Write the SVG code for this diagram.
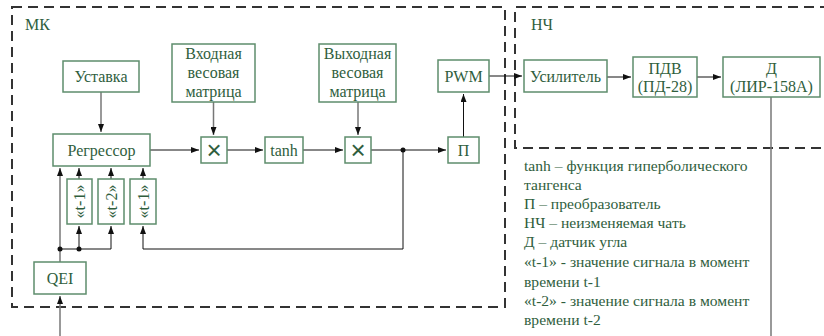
<svg xmlns="http://www.w3.org/2000/svg" width="824" height="336" viewBox="0 0 824 336">
<defs>
<marker id="ah" viewBox="0 0 8 6" refX="8" refY="3" markerWidth="8" markerHeight="6" markerUnits="userSpaceOnUse" orient="auto">
<path d="M0,0 L8,3 L0,6 z" fill="#111"/>
</marker>
</defs>
<style>
.box{fill:#fff;stroke:#5e8d6c;stroke-width:1.5}
.t{font-family:'Liberation Serif',serif;font-size:16px;fill:#2f5e3d;text-anchor:middle}
.lg{font-family:'Liberation Serif',serif;font-size:15.6px;fill:#2f5e3d}
.mul{font-family:'Liberation Sans',sans-serif;font-size:26px;fill:#2f5e3d;text-anchor:middle}
.frame{fill:none;stroke:#333;stroke-width:2;stroke-dasharray:10,6}
.c{fill:none;stroke:#111;stroke-width:1}
.g{fill:none;stroke:#777;stroke-width:1.5}
.dot{fill:#111}
</style>
<rect width="824" height="336" fill="#fff"/>
<g id="frames">
<rect class="frame" x="12" y="7" width="493" height="300"/>
<path class="frame" d="M830,7 H515 V148 H830"/>
<text class="t" x="37.5" y="30">МК</text>
<text class="t" x="542" y="30">НЧ</text>
</g>
<g id="connectors">
<path class="g" d="M101,92 V132" marker-end="url(#ah)"/>
<path class="g" d="M213.5,102 V135" marker-end="url(#ah)"/>
<path class="g" d="M358,102 V135" marker-end="url(#ah)"/>
<path class="c" d="M150,150 H199" marker-end="url(#ah)"/>
<path class="c" d="M227,150 H263" marker-end="url(#ah)"/>
<path class="c" d="M303,150 H343" marker-end="url(#ah)"/>
<path class="c" d="M371,150 H446" marker-end="url(#ah)"/>
<path class="c" d="M463.5,137 V94" marker-end="url(#ah)"/>
<path class="c" d="M489,76 H522" marker-end="url(#ah)"/>
<path class="c" d="M607,77 H631" marker-end="url(#ah)"/>
<path class="c" d="M697,77 H721" marker-end="url(#ah)"/>
<path class="g" d="M771,97 V336"/>
<path class="g" d="M60,336 V296" marker-end="url(#ah)"/>
<path class="g" d="M60,262 V168" marker-end="url(#ah)"/>
<path class="c" d="M60,249 H111 V226" marker-end="url(#ah)"/>
<path class="c" d="M79,249 V226" marker-end="url(#ah)"/>
<path class="c" d="M79,179 V168" marker-end="url(#ah)"/>
<path class="c" d="M111,179 V168" marker-end="url(#ah)"/>
<path class="c" d="M143,179 V168" marker-end="url(#ah)"/>
<path class="c" d="M403,150 V249 H143 V226" marker-end="url(#ah)"/>
<circle class="dot" cx="403" cy="150" r="2.5"/>
<circle class="dot" cx="60" cy="249" r="2.5"/>
<circle class="dot" cx="79" cy="249" r="2.5"/>
</g>
<g id="ustavka"><rect class="box" x="63" y="61" width="76" height="31"/><text class="t" x="101" y="82">Уставка</text></g>
<g id="in_matrix"><rect class="box" x="172" y="44" width="83" height="58"/><text class="t" x="213.5" y="59">Входная</text><text class="t" x="213.5" y="78">весовая</text><text class="t" x="213.5" y="97">матрица</text></g>
<g id="out_matrix"><rect class="box" x="319" y="44" width="77" height="58"/><text class="t" x="357.5" y="59">Выходная</text><text class="t" x="357.5" y="78">весовая</text><text class="t" x="357.5" y="97">матрица</text></g>
<g id="regressor"><rect class="box" x="53" y="134" width="97" height="32"/><text class="t" x="101.5" y="155.5">Регрессор</text></g>
<g id="mul1"><rect class="box" x="201" y="137" width="26" height="26"/><text class="mul" x="214" y="159">×</text></g>
<g id="tanh"><rect class="box" x="265" y="137" width="38" height="26"/><text class="t" x="284" y="155.5">tanh</text></g>
<g id="mul2"><rect class="box" x="345" y="137" width="26" height="26"/><text class="mul" x="358" y="159">×</text></g>
<g id="pwm"><rect class="box" x="438" y="60" width="51" height="32"/><text class="t" x="463.5" y="82">PWM</text></g>
<g id="p"><rect class="box" x="448" y="137" width="31" height="26"/><text class="t" x="463.5" y="155.5">П</text></g>
<g id="d1"><rect class="box" x="67" y="179" width="25" height="45"/><text class="t" transform="translate(85,201.5) rotate(-90)">«t-1»</text></g>
<g id="d2"><rect class="box" x="98" y="179" width="26" height="45"/><text class="t" transform="translate(116.5,201.5) rotate(-90)">«t-2»</text></g>
<g id="d3"><rect class="box" x="130" y="179" width="26" height="45"/><text class="t" transform="translate(148.5,201.5) rotate(-90)">«t-1»</text></g>
<g id="qei"><rect class="box" x="34" y="262" width="52" height="32"/><text class="t" x="60" y="283.5">QEI</text></g>
<g id="amp"><rect class="box" x="524" y="60" width="83" height="32"/><text class="t" x="565.5" y="82">Усилитель</text></g>
<g id="pdv"><rect class="box" x="633" y="57" width="64" height="40"/><text class="t" x="665" y="74">ПДВ</text><text class="t" x="665" y="92">(ПД-28)</text></g>
<g id="sensor"><rect class="box" x="723" y="57" width="97" height="40"/><text class="t" x="771.5" y="74">Д</text><text class="t" x="771.5" y="92">(ЛИР-158А)</text></g>
<g id="legend">
<text class="lg" x="524" y="171">tanh – функция гиперболического</text>
<text class="lg" x="524" y="190">тангенса</text>
<text class="lg" x="524" y="209">П – преобразователь</text>
<text class="lg" x="524" y="228">НЧ – неизменяемая чать</text>
<text class="lg" x="524" y="247">Д – датчик угла</text>
<text class="lg" x="524" y="267">«t-1» - значение сигнала в момент</text>
<text class="lg" x="524" y="287">времени t-1</text>
<text class="lg" x="524" y="306">«t-2» - значение сигнала в момент</text>
<text class="lg" x="524" y="325">времени t-2</text>
</g>
</svg>
